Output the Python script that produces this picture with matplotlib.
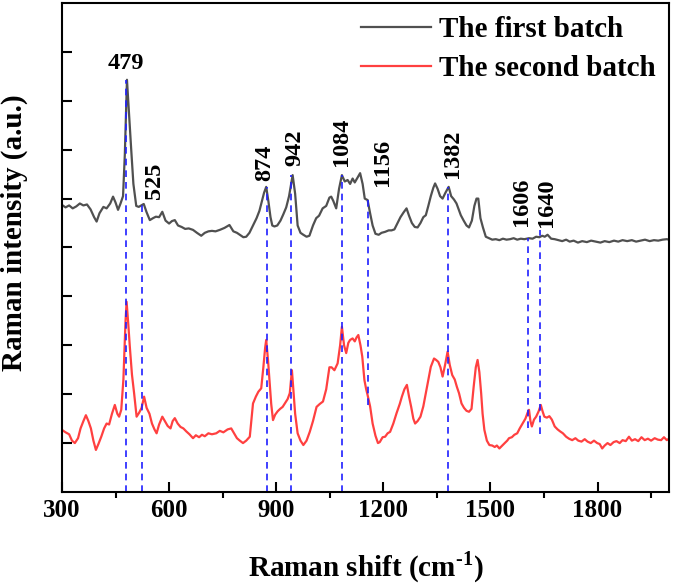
import numpy as np
import matplotlib
matplotlib.use('Agg')
import matplotlib.pyplot as plt

plt.rcParams['font.family'] = ['Liberation Serif', 'DejaVu Serif']
plt.rcParams['font.weight'] = 'bold'
plt.rcParams['mathtext.fontset'] = 'custom'
plt.rcParams['mathtext.rm'] = 'Liberation Serif:bold'
plt.rcParams['mathtext.bf'] = 'Liberation Serif:bold'

# first batch (gray)
shift_1 = [300, 310, 320, 330, 340, 350, 360, 370, 380, 390,
           397, 405, 416, 425, 435, 443, 450, 457, 464, 471,
           476, 482, 488, 494, 500, 508, 515, 522, 529, 537,
           546, 555, 563, 572, 581, 590, 600, 608, 616, 625,
           635, 645, 655, 667, 678, 690, 700, 710, 720, 730,
           742, 755, 769, 780, 790, 800, 808, 816, 825, 835,
           845, 853, 860, 866, 872, 878, 884, 889, 895, 903,
           912, 920, 928, 936, 946, 953, 960, 968, 976, 985,
           993, 1003, 1012, 1020, 1030, 1040, 1049, 1054, 1060, 1068,
           1076, 1084, 1092, 1100, 1107, 1114, 1120, 1127, 1135, 1142,
           1148, 1156, 1163, 1170, 1178, 1187, 1195, 1205, 1215, 1223,
           1231, 1240, 1248, 1257, 1265, 1272, 1280, 1288, 1296, 1304,
           1312, 1319, 1326, 1333, 1340, 1345, 1352, 1359, 1366, 1374,
           1383, 1390, 1398, 1405, 1411, 1417, 1425, 1433, 1440, 1448,
           1455, 1461, 1466, 1472, 1479, 1487, 1496, 1505, 1515, 1525,
           1535, 1545, 1555, 1565, 1575, 1585, 1595, 1608, 1618, 1628,
           1637, 1645, 1652, 1660, 1670, 1680, 1690, 1701, 1712, 1722,
           1733, 1745, 1757, 1770, 1782, 1795, 1808, 1820, 1833, 1846,
           1858, 1870, 1883, 1896, 1908, 1920, 1933, 1946, 1958, 1970,
           1982, 1994, 2000]
intensity_1 = [5.87, 5.82, 5.86, 5.80, 5.84, 5.90, 5.86, 5.88, 5.78, 5.62,
               5.53, 5.70, 5.83, 5.80, 5.90, 6.04, 5.92, 5.77, 5.90, 6.05,
               6.90, 8.43, 7.70, 6.99, 6.30, 5.85, 5.83, 5.86, 5.89, 5.72,
               5.56, 5.60, 5.63, 5.62, 5.73, 5.55, 5.49, 5.54, 5.56, 5.45,
               5.42, 5.38, 5.39, 5.36, 5.30, 5.24, 5.30, 5.33, 5.34, 5.33,
               5.36, 5.40, 5.46, 5.33, 5.30, 5.25, 5.21, 5.22, 5.30, 5.45,
               5.60, 5.75, 5.95, 6.12, 6.24, 5.95, 5.62, 5.45, 5.43, 5.45,
               5.55, 5.68, 5.82, 6.05, 6.48, 6.10, 5.45, 5.30, 5.26, 5.22,
               5.24, 5.45, 5.60, 5.65, 5.80, 5.85, 6.02, 6.04, 5.95, 5.80,
               6.20, 6.48, 6.35, 6.38, 6.30, 6.41, 6.33, 6.42, 6.52, 6.30,
               6.00, 5.97, 5.70, 5.45, 5.28, 5.26, 5.30, 5.32, 5.35, 5.35,
               5.37, 5.50, 5.62, 5.72, 5.80, 5.65, 5.50, 5.42, 5.41, 5.50,
               5.62, 5.66, 5.85, 6.05, 6.22, 6.31, 6.20, 6.05, 6.00, 6.12,
               6.24, 6.05, 5.98, 5.90, 5.78, 5.66, 5.55, 5.45, 5.41, 5.55,
               5.85, 6.00, 6.00, 5.60, 5.41, 5.22, 5.19, 5.16, 5.17, 5.15,
               5.18, 5.16, 5.17, 5.19, 5.16, 5.18, 5.17, 5.19, 5.18, 5.22,
               5.21, 5.24, 5.22, 5.26, 5.18, 5.17, 5.15, 5.13, 5.16, 5.12,
               5.14, 5.10, 5.13, 5.11, 5.14, 5.12, 5.10, 5.13, 5.11, 5.14,
               5.12, 5.15, 5.13, 5.15, 5.12, 5.14, 5.16, 5.13, 5.15, 5.14,
               5.16, 5.17, 5.16]

# second batch (red)
shift_2 = [300, 310, 320, 328, 336, 345, 352, 360, 367, 374,
           381, 388, 395, 402, 410, 418, 425, 432, 440, 448,
           455, 460, 466, 472, 478, 481, 486, 490, 496, 502,
           509, 516, 523, 530, 537, 545, 552, 559, 565, 572,
           581, 588, 596, 604, 610, 616, 624, 632, 640, 648,
           657, 667, 675, 684, 692, 700, 710, 720, 732, 742,
           752, 764, 774, 782, 790, 798, 807, 816, 826, 831,
           835, 843, 850, 858, 864, 869, 872, 877, 881, 886,
           891, 897, 904, 911, 918, 925, 932, 938, 944, 948,
           953, 960, 968, 976, 985, 994, 1003, 1013, 1022, 1031,
           1040, 1049, 1055, 1063, 1072, 1079, 1084, 1090, 1096, 1102,
           1107, 1114, 1120, 1125, 1130, 1136, 1141, 1147, 1152, 1156,
           1163, 1170, 1178, 1185, 1190, 1198, 1205, 1212, 1219, 1228,
           1237, 1246, 1252, 1259, 1266, 1272, 1278, 1284, 1289, 1296,
           1304, 1312, 1319, 1326, 1333, 1342, 1348, 1354, 1360, 1366,
           1373, 1380, 1386, 1393, 1400, 1406, 1412, 1419, 1426, 1433,
           1440, 1447, 1453, 1459, 1464, 1469, 1474, 1478, 1483, 1490,
           1497, 1505, 1512, 1518, 1525, 1533, 1540, 1547, 1552, 1560,
           1567, 1575, 1582, 1590, 1598, 1604, 1608, 1612, 1616, 1622,
           1628, 1635, 1641, 1646, 1651, 1658, 1665, 1672, 1680, 1688,
           1695, 1703, 1712, 1720, 1729, 1738, 1746, 1755, 1764, 1772,
           1781, 1790, 1799, 1806, 1813, 1820, 1828, 1836, 1845, 1853,
           1862, 1870, 1879, 1888, 1896, 1905, 1914, 1923, 1932, 1941,
           1950, 1960, 1969, 1978, 1986, 1994, 2000]
intensity_2 = [1.27, 1.22, 1.18, 1.05, 1.00, 1.10, 1.30, 1.45, 1.57, 1.45,
               1.30, 1.05, 0.86, 0.98, 1.13, 1.30, 1.40, 1.38, 1.60, 1.78,
               1.60, 1.54, 1.68, 2.30, 3.50, 3.89, 3.40, 2.97, 2.40, 2.02,
               1.54, 1.62, 1.72, 1.95, 1.72, 1.60, 1.40, 1.28, 1.20, 1.38,
               1.54, 1.45, 1.35, 1.30, 1.45, 1.51, 1.40, 1.33, 1.30, 1.24,
               1.18, 1.10, 1.16, 1.12, 1.17, 1.14, 1.20, 1.18, 1.20, 1.25,
               1.22, 1.28, 1.30, 1.20, 1.10, 1.05, 1.00, 1.05, 1.13, 1.50,
               1.81, 1.95, 2.05, 2.12, 2.55, 2.95, 3.11, 2.70, 2.29, 1.80,
               1.47, 1.58, 1.65, 1.70, 1.74, 1.82, 1.90, 2.02, 2.49, 2.10,
               1.60, 1.20, 1.05, 0.96, 1.05, 1.23, 1.45, 1.74, 1.80, 1.85,
               2.10, 2.55, 2.55, 2.49, 2.63, 3.00, 3.38, 3.00, 2.84, 3.05,
               3.11, 3.14, 3.08, 3.16, 3.21, 3.00, 2.77, 2.29, 2.10, 1.98,
               1.75, 1.40, 1.15, 1.00, 1.02, 1.12, 1.13, 1.20, 1.23, 1.40,
               1.61, 1.80, 1.95, 2.10, 2.19, 1.95, 1.74, 1.50, 1.40, 1.45,
               1.54, 1.75, 2.02, 2.30, 2.56, 2.73, 2.70, 2.66, 2.55, 2.36,
               2.60, 2.87, 2.60, 2.39, 2.30, 2.15, 2.02, 1.81, 1.72, 1.66,
               1.64, 1.70, 2.15, 2.55, 2.70, 2.45, 2.02, 1.60, 1.27, 1.05,
               0.96, 0.95, 0.92, 0.95, 0.89, 0.95, 1.00, 1.05, 1.10, 1.12,
               1.17, 1.20, 1.30, 1.40, 1.50, 1.62, 1.68, 1.45, 1.34, 1.48,
               1.54, 1.65, 1.78, 1.65, 1.54, 1.52, 1.55, 1.48, 1.34, 1.28,
               1.24, 1.20, 1.13, 1.09, 1.06, 1.10, 1.05, 1.03, 1.08, 1.03,
               1.00, 1.05, 1.00, 0.98, 0.89, 0.95, 1.00, 0.96, 1.02, 1.04,
               1.00, 1.06, 1.04, 1.13, 1.05, 1.08, 1.04, 1.12, 1.06, 1.09,
               1.05, 1.10, 1.07, 1.06, 1.12, 1.06, 1.09]

# marked peaks and where their dashed guides start / stop
peaks = [479, 525, 874, 942, 1084, 1156, 1382, 1606, 1640]
guide_top = [8.43, 5.89, 6.24, 6.48, 6.48, 5.97, 6.24, 5.19, 5.36]
guide_bottom = [0, 0, 0, 0, 0, 1.78, 0, 1.30, 1.19]

# label anchor (x, y) for each peak number
label_x = [479, 560, 867, 951, 1083, 1197, 1393, 1588, 1658]
label_y = [8.77, 6.36, 6.74, 7.03, 7.16, 6.73, 6.91, 5.94, 5.91]

fig = plt.figure(figsize=(6.73, 5.88), dpi=100)
ax = fig.add_axes([0.0921, 0.1633, 0.9019, 0.8316])

ax.plot(shift_1, intensity_1, color='#505050', lw=1.6, label='The first batch')
ax.plot(shift_2, intensity_2, color='#ff4040', lw=1.6, label='The second batch')

for i in range(len(peaks)):
    ax.plot([peaks[i], peaks[i]], [guide_bottom[i], guide_top[i]],
            color='#1f1fff', lw=1.2, ls=(0, (4, 3)))
    rot = 0 if i == 0 else 90
    ax.text(label_x[i], label_y[i], str(peaks[i]), rotation=rot,
            ha='center', va='center', fontsize=17.5, fontweight='bold')

ax.set_xlim(300, 2000)
ax.set_ylim(0, 10)
ax.set_xticks([300, 600, 900, 1200, 1500, 1800])
ax.set_xticks([450, 750, 1050, 1350, 1650, 1950], minor=True)
ax.set_yticks(np.arange(1, 10))
ax.set_yticklabels([])
ax.tick_params(axis='both', direction='in', width=1.5)
ax.tick_params(axis='x', which='major', length=7, labelsize=18, pad=5)
ax.tick_params(axis='x', which='minor', length=4, width=1.5)
ax.tick_params(axis='y', length=7)
for s in ax.spines.values():
    s.set_linewidth(1.5)

ax.set_xlabel(r'Raman shift (cm$^{\text{-1}}$)', fontsize=21, fontweight='bold', labelpad=20)
ax.set_ylabel('Raman intensity (a.u.)', fontsize=21, fontweight='bold')
ax.yaxis.set_label_coords(-0.056, 0.53)

ax.legend(loc='upper right', bbox_to_anchor=(1.022, 1.027), frameon=False,
          fontsize=21, handlelength=2.4, handletextpad=0.3, labelspacing=0.4)

plt.savefig('out.png', dpi=100)
plt.close()
